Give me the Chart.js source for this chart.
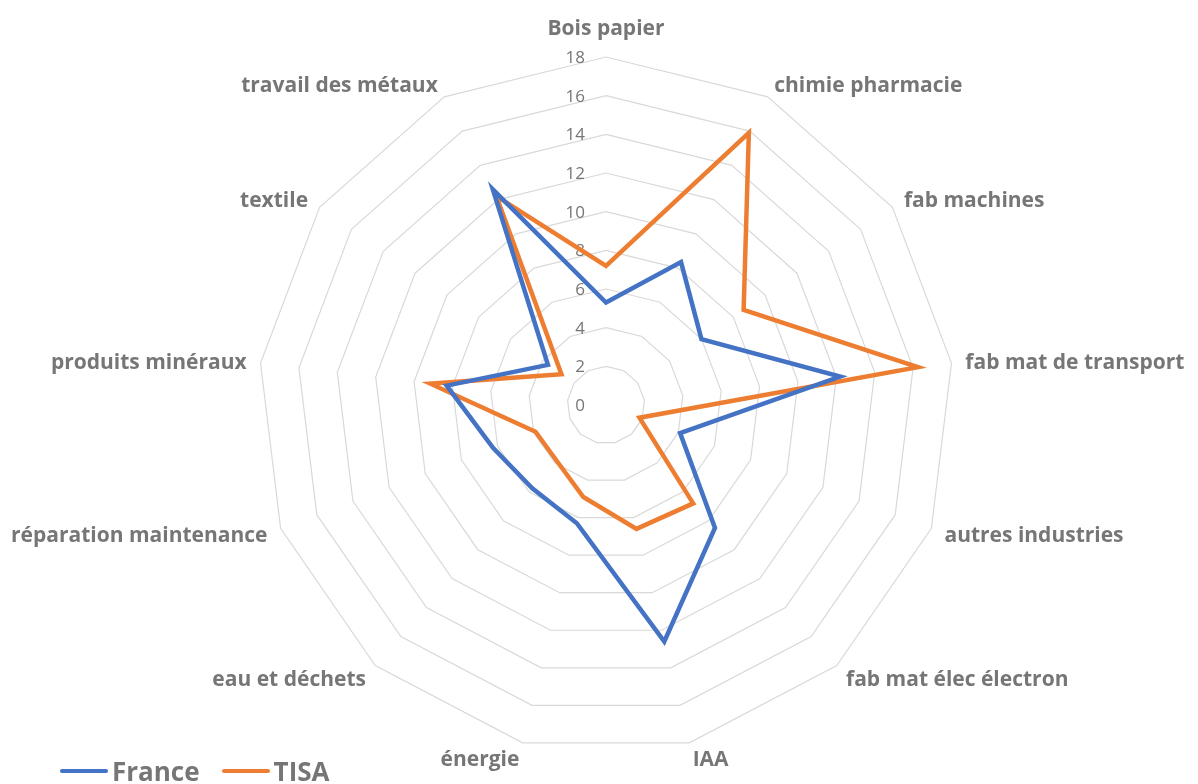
<!DOCTYPE html>
<html>
<head>
<meta charset="utf-8">
<script src="https://cdn.jsdelivr.net/npm/chart.js@4.4.0/dist/chart.umd.min.js"></script>
<style>
  html, body { margin: 0; padding: 0; background: #ffffff; }
  #wrap { position: relative; width: 1198px; height: 784px; overflow: hidden; }
  #c { position: absolute; left: 0; top: 0; }
  .legend { position: absolute; left: 60px; top: 753px; display: flex; align-items: center;
            font-family: "Open Sans", sans-serif; font-weight: 700; font-size: 26px; color: #767676; }
  .legend .item { display: flex; align-items: center; margin-right: 22px; }
  .legend .swatch { width: 48px; height: 4.5px; border-radius: 3px; margin-right: 4px; }
</style>
</head>
<body>
<div id="wrap">
  <canvas id="c" width="1198" height="784"></canvas>
  <div class="legend" id="legend"></div>
</div>
<script>
// Sectors shown around the radar, clockwise from the top
const categories = [
  "Bois papier", "chimie pharmacie", "fab machines", "fab mat de transport",
  "autres industries", "fab mat élec électron", "IAA", "énergie",
  "eau et déchets", "réparation maintenance", "produits minéraux",
  "textile", "travail des métaux"
];
const franceValues = [5.3, 8.35, 6.0, 12.2, 4.1, 8.5, 12.6, 6.3, 5.75, 6.25, 8.3, 3.65, 12.6];
const tisaValues   = [7.2, 15.9, 8.65, 16.25, 1.85, 6.8, 6.6, 4.9, 3.85, 3.9, 9.15, 2.8, 12.2];
const tickValues = [0, 2, 4, 6, 8, 10, 12, 14, 16, 18];
const seriesNames = ["France", "TISA"];
const seriesColors = ["#4472C4", "#ED7D31"];

const textGray = "#767676";
const labelFont = '700 21px "Open Sans", sans-serif';
const tickFont = '400 17px "Open Sans", sans-serif';

// Value axis labels sit just left of the vertical axis, under the series lines
const tickLabelPlugin = {
  id: "tickLabels",
  beforeDatasetsDraw(chart) {
    const s = chart.scales.r, ctx = chart.ctx;
    ctx.save();
    ctx.font = tickFont;
    ctx.fillStyle = textGray;
    ctx.textAlign = "right";
    ctx.textBaseline = "middle";
    tickValues.forEach(v => {
      const y = s.yCenter - s.getDistanceFromCenterForValue(v);
      ctx.fillText(String(v), s.xCenter - 21, y + 1);
    });
    ctx.restore();
  }
};

// Category names placed outside the outer ring
const categoryLabelPlugin = {
  id: "categoryLabels",
  afterDraw(chart) {
    const s = chart.scales.r, ctx = chart.ctx;
    ctx.save();
    ctx.font = labelFont;
    ctx.fillStyle = textGray;
    ctx.textBaseline = "middle";
    categories.forEach((name, i) => {
      const p = s.getPointPosition(i, s.drawingArea + 14);
      const dx = p.x - s.xCenter;
      const dy = p.y - s.yCenter;
      if (Math.abs(dx) < 1) {
        const top = s.getPointPosition(i, s.drawingArea + 28);
        ctx.textAlign = "center";
        ctx.fillText(name, top.x, top.y);
      } else {
        ctx.textAlign = dx > 0 ? "left" : "right";
        const shift = 2 + (dy > 0 ? 2 * dy / s.drawingArea : 0);
        ctx.fillText(name, p.x, p.y + shift);
      }
    });
    ctx.restore();
  }
};

const datasets = [franceValues, tisaValues].map((vals, k) => ({
  label: seriesNames[k],
  data: vals,
  borderColor: seriesColors[k],
  backgroundColor: seriesColors[k],
  borderWidth: 4.5,
  fill: false,
  pointRadius: 0,
  pointHoverRadius: 0,
  borderJoinStyle: "miter"
}));

new Chart(document.getElementById("c"), {
  type: "radar",
  data: { labels: categories, datasets },
  options: {
    responsive: false,
    animation: false,
    events: [],
    plugins: { legend: { display: false }, tooltip: { enabled: false } },
    scales: {
      r: {
        min: 0,
        max: 18,
        ticks: { stepSize: 2, display: false },
        grid: { color: "#d9d9d9", lineWidth: 1.2 },
        angleLines: { display: false },
        pointLabels: { display: false },
        afterFit(scale) {
          scale.xCenter = 606;
          scale.yCenter = 405;
          scale.drawingArea = 348;
        }
      }
    }
  },
  plugins: [tickLabelPlugin, categoryLabelPlugin]
});

// Legend row at the bottom left
const legend = document.getElementById("legend");
seriesNames.forEach((name, k) => {
  const item = document.createElement("div");
  item.className = "item";
  const sw = document.createElement("span");
  sw.className = "swatch";
  sw.style.background = seriesColors[k];
  const tx = document.createElement("span");
  tx.textContent = name;
  item.appendChild(sw);
  item.appendChild(tx);
  legend.appendChild(item);
});
</script>
</body>
</html>
